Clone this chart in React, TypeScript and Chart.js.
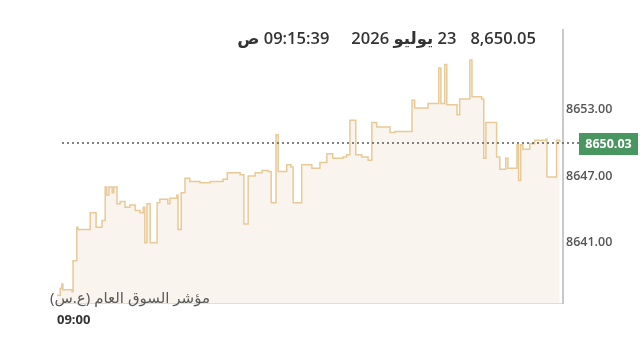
import React, { useEffect, useRef } from "react";
import { Chart, registerables } from "chart.js";

Chart.register(...registerables);

// seconds since 09:00 and index level
const times = [
  0, 6, 9, 11, 28, 30, 37, 39, 62, 73, 84, 90, 93, 97, 103, 106, 112, 118, 127, 136,
  146, 155, 161, 164, 168, 174, 187, 192, 207, 211, 224, 226, 232, 239, 248, 267, 286, 310, 318, 342,
  349, 357, 370, 383, 394, 400, 409, 413, 429, 437, 441, 457, 476, 491, 504, 515, 534, 541, 547, 558,
  569, 581, 588, 597, 622, 631, 663, 668, 693, 713, 717, 724, 728, 747, 752, 771, 775, 793, 797, 801,
  821, 827, 838, 842, 859, 862, 866, 870, 883, 892, 913, 915, 931, 933, 939,
];
const values = [
  8636.3, 8636.9, 8637.3, 8636.8, 8636.6, 8639.4, 8642.4, 8642.2, 8643.7, 8642.4, 8643.0, 8646.0, 8645.3, 8646.0, 8645.5, 8646.0, 8644.5, 8644.7, 8644.2, 8644.4,
  8643.9, 8643.7, 8644.2, 8641.0, 8644.5, 8641.0, 8644.6, 8644.9, 8644.5, 8645.0, 8645.3, 8642.2, 8645.5, 8646.8, 8646.5, 8646.4, 8646.5, 8646.7, 8647.3, 8647.1,
  8642.7, 8647.0, 8647.3, 8647.5, 8647.4, 8644.6, 8650.7, 8647.4, 8648.0, 8647.8, 8644.6, 8648.0, 8647.7, 8648.2, 8649.0, 8648.6, 8648.7, 8648.9, 8652.0, 8648.9,
  8648.7, 8648.4, 8651.8, 8651.4, 8650.9, 8651.0, 8653.8, 8653.1, 8653.5, 8656.7, 8653.5, 8657.0, 8653.4, 8652.5, 8653.9, 8657.4, 8654.1, 8653.9, 8648.6, 8651.8,
  8648.7, 8647.6, 8648.6, 8647.7, 8649.8, 8646.6, 8649.8, 8649.4, 8649.9, 8650.2, 8650.3, 8646.9, 8646.9, 8650.2, 8650.05,
];
const yTickValues = [8641, 8647, 8653];
const xTickValues = [0];
const xTickLabels = ["09:00"];
const refLevel = 8650.03;
const headerValue = "8,650.05";
const headerDate = "23 يوليو 2026";
const headerTime = "09:15:39 ص";
const indexName = "مؤشر السوق العام (ع.س)";

const refLinePlugin = {
  id: "refLine",
  afterDatasetsDraw(chart: any) {
    const { ctx, chartArea, scales } = chart;
    const y = Math.round(scales.y.getPixelForValue(refLevel)) + 1;
    ctx.save();
    ctx.strokeStyle = "#5a5a5a";
    ctx.lineWidth = 1.5;
    ctx.setLineDash([2, 3]);
    ctx.beginPath();
    ctx.moveTo(chartArea.left + 5, y);
    ctx.lineTo(chartArea.right + 16, y);
    ctx.stroke();
    ctx.setLineDash([]);
    const bx = chartArea.right + 16;
    const bw = 59;
    const bh = 22;
    ctx.fillStyle = "#4a9660";
    ctx.fillRect(bx, y - bh / 2 + 1, bw, bh);
    ctx.fillStyle = "#ffffff";
    ctx.font = "bold 12.5px 'Open Sans', sans-serif";
    ctx.textAlign = "center";
    ctx.textBaseline = "middle";
    ctx.fillText(refLevel.toFixed(2), bx + bw / 2, y + 1.5);
    ctx.restore();
  },
};

export default function App() {
  const canvasRef = useRef<HTMLCanvasElement>(null);

  useEffect(() => {
    document.body.style.margin = "0";
    const data = times.map((t, i) => ({ x: t, y: values[i] }));
    const chart = new Chart(canvasRef.current as HTMLCanvasElement, {
      type: "line",
      data: {
        datasets: [
          {
            data,
            stepped: "before",
            borderColor: "#e8ca98",
            borderWidth: 1.5,
            backgroundColor: "#faf4ee",
            fill: "start",
            pointRadius: 0,
          },
        ],
      },
      options: {
        animation: false,
        responsive: true,
        maintainAspectRatio: false,
        layout: { padding: { left: 57, top: 30, right: 0, bottom: 0 } },
        plugins: { legend: { display: false }, tooltip: { enabled: false } },
        scales: {
          x: {
            type: "linear",
            min: 0,
            max: 945,
            afterFit: (s: any) => {
              s.height = 36;
            },
            afterBuildTicks: (s: any) => {
              s.ticks = xTickValues.map((v) => ({ value: v }));
            },
            grid: { display: false, drawTicks: false },
            border: { display: true, color: "#e2ddd8", width: 1 },
            ticks: {
              padding: 9,
              align: "start",
              maxRotation: 0,
              color: "#333333",
              font: { family: "'Open Sans', sans-serif", size: 13, weight: "bold" },
              callback: (v: any) => {
                const i = xTickValues.indexOf(Number(v));
                return i >= 0 ? xTickLabels[i] : "";
              },
            },
          },
          y: {
            position: "right",
            min: 8635.6,
            max: 8660.1,
            afterFit: (s: any) => {
              s.width = 77;
            },
            afterBuildTicks: (s: any) => {
              s.ticks = yTickValues.map((v) => ({ value: v }));
            },
            grid: { display: false, drawTicks: false },
            border: { display: true, color: "#c9c9c9", width: 2 },
            ticks: {
              padding: 3,
              color: "#555555",
              font: { family: "'Open Sans', sans-serif", size: 12.5, weight: 600 },
              callback: (v: any) => Number(v).toFixed(2),
            },
          },
        },
      },
      plugins: [refLinePlugin],
    });
    return () => chart.destroy();
  }, []);

  return (
    <div style={{ position: "absolute", left: 0, top: 0, width: 640, height: 339, background: "#fff" }}>
      <canvas ref={canvasRef} />
      <div
        dir="rtl"
        style={{
          position: "absolute",
          right: 104,
          top: 27,
          display: "flex",
          flexDirection: "row",
          fontFamily: "'Open Sans', 'DejaVu Sans', sans-serif",
          fontWeight: 600,
          fontSize: 16.5,
          color: "#333",
          lineHeight: "22px",
          whiteSpace: "nowrap",
        }}
      >
        <span style={{ marginLeft: 14 }}>{headerValue}</span>
        <span style={{ marginLeft: 22 }}>{headerDate}</span>
        <span>{headerTime}</span>
      </div>
      <div
        dir="rtl"
        style={{
          position: "absolute",
          left: 50,
          top: 287,
          fontFamily: "'Noto Sans', 'DejaVu Sans', sans-serif",
          fontSize: 15,
          color: "#5a5a5a",
          lineHeight: "20px",
          whiteSpace: "nowrap",
        }}
      >
        {indexName}
      </div>
    </div>
  );
}
